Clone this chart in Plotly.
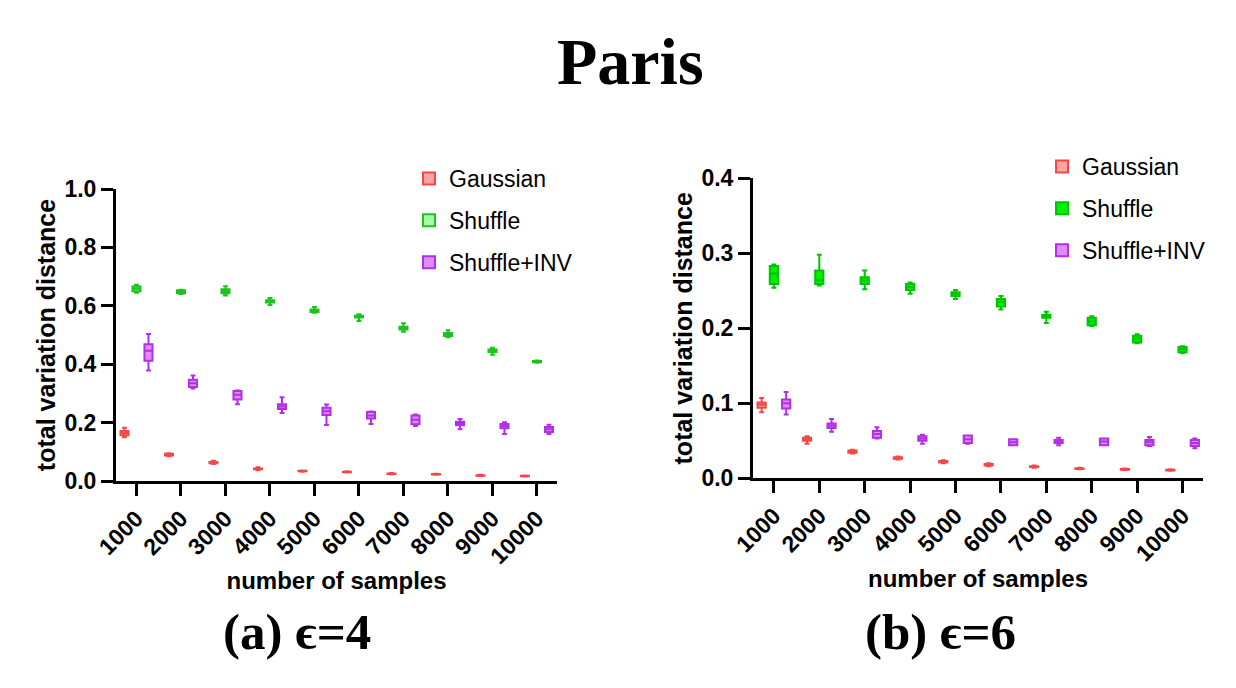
import plotly.graph_objects as go

cats = ["1000", "2000", "3000", "4000", "5000", "6000", "7000", "8000", "9000", "10000"]
series_names = ["Gaussian", "Shuffle", "Shuffle+INV"]

# ---- (a) eps = 4 ----
g4_med = [0.164, 0.090, 0.063, 0.042, 0.034, 0.031, 0.025, 0.023, 0.019, 0.017]
g4_q1 = [0.157, 0.087, 0.061, 0.040, 0.033, 0.030, 0.024, 0.022, 0.018, 0.016]
g4_q3 = [0.171, 0.093, 0.065, 0.043, 0.035, 0.032, 0.026, 0.024, 0.020, 0.018]
g4_lo = [0.150, 0.085, 0.058, 0.037, 0.032, 0.029, 0.023, 0.021, 0.017, 0.015]
g4_hi = [0.182, 0.095, 0.069, 0.047, 0.036, 0.033, 0.027, 0.025, 0.021, 0.019]

s4_med = [0.658, 0.648, 0.650, 0.615, 0.583, 0.563, 0.524, 0.502, 0.446, 0.409]
s4_q1 = [0.650, 0.643, 0.643, 0.611, 0.579, 0.560, 0.519, 0.497, 0.442, 0.407]
s4_q3 = [0.666, 0.653, 0.657, 0.619, 0.587, 0.566, 0.528, 0.507, 0.450, 0.411]
s4_lo = [0.645, 0.640, 0.635, 0.603, 0.576, 0.548, 0.511, 0.492, 0.432, 0.405]
s4_hi = [0.672, 0.655, 0.667, 0.627, 0.596, 0.571, 0.540, 0.516, 0.456, 0.413]

i4_med = [0.446, 0.335, 0.295, 0.255, 0.239, 0.224, 0.210, 0.197, 0.188, 0.177]
i4_q1 = [0.412, 0.322, 0.279, 0.247, 0.226, 0.214, 0.194, 0.191, 0.181, 0.168]
i4_q3 = [0.468, 0.347, 0.308, 0.263, 0.251, 0.236, 0.224, 0.203, 0.195, 0.185]
i4_lo = [0.378, 0.317, 0.263, 0.233, 0.192, 0.195, 0.188, 0.177, 0.161, 0.161]
i4_hi = [0.503, 0.361, 0.310, 0.287, 0.262, 0.238, 0.228, 0.212, 0.201, 0.193]

# ---- (b) eps = 6 ----
g6_med = [0.098, 0.052, 0.0355, 0.027, 0.022, 0.018, 0.0155, 0.013, 0.012, 0.011]
g6_q1 = [0.094, 0.050, 0.034, 0.026, 0.021, 0.017, 0.015, 0.0125, 0.0115, 0.0105]
g6_q3 = [0.101, 0.054, 0.037, 0.028, 0.023, 0.019, 0.016, 0.0135, 0.0125, 0.0115]
g6_lo = [0.088, 0.046, 0.033, 0.025, 0.020, 0.016, 0.014, 0.012, 0.011, 0.010]
g6_hi = [0.107, 0.056, 0.038, 0.029, 0.024, 0.020, 0.017, 0.014, 0.013, 0.012]

s6_med = [0.273, 0.264, 0.264, 0.255, 0.245, 0.235, 0.216, 0.209, 0.186, 0.172]
s6_q1 = [0.259, 0.259, 0.259, 0.251, 0.243, 0.229, 0.214, 0.204, 0.181, 0.168]
s6_q3 = [0.283, 0.277, 0.268, 0.259, 0.248, 0.239, 0.218, 0.214, 0.190, 0.175]
s6_lo = [0.254, 0.257, 0.252, 0.246, 0.239, 0.225, 0.207, 0.203, 0.180, 0.167]
s6_hi = [0.285, 0.298, 0.277, 0.261, 0.251, 0.243, 0.222, 0.216, 0.192, 0.176]

i6_med = [0.100, 0.070, 0.059, 0.053, 0.052, 0.048, 0.049, 0.049, 0.048, 0.047]
i6_q1 = [0.093, 0.067, 0.054, 0.050, 0.047, 0.044, 0.047, 0.044, 0.044, 0.043]
i6_q3 = [0.105, 0.073, 0.063, 0.056, 0.057, 0.052, 0.051, 0.053, 0.051, 0.051]
i6_lo = [0.085, 0.062, 0.053, 0.046, 0.046, 0.044, 0.044, 0.044, 0.043, 0.040]
i6_hi = [0.115, 0.079, 0.068, 0.058, 0.057, 0.052, 0.054, 0.053, 0.055, 0.053]

line_cols = ["#F44848", "#1EC21E", "#B22FE6"]
fill_left = ["#FFA3A3", "#A6FFA6", "#DD8CF8"]
line_right = ["#F44848", "#00C400", "#B22FE6"]
fill_right = ["#FFA3A3", "#00EE00", "#DD8CF8"]

left_stats = [
    (g4_q1, g4_med, g4_q3, g4_lo, g4_hi),
    (s4_q1, s4_med, s4_q3, s4_lo, s4_hi),
    (i4_q1, i4_med, i4_q3, i4_lo, i4_hi),
]
right_stats = [
    (g6_q1, g6_med, g6_q3, g6_lo, g6_hi),
    (s6_q1, s6_med, s6_q3, s6_lo, s6_hi),
    (i6_q1, i6_med, i6_q3, i6_lo, i6_hi),
]

fig = go.Figure()
for k, (name, st) in enumerate(zip(series_names, left_stats)):
    q1, med, q3, lo, hi = st
    fig.add_trace(go.Box(
        x=cats, q1=q1, median=med, q3=q3, lowerfence=lo, upperfence=hi,
        name=name, xaxis="x", yaxis="y", offsetgroup=str(k),
        fillcolor=fill_left[k], line=dict(color=line_cols[k], width=2),
        whiskerwidth=0.6, boxpoints=False, legend="legend", legendgroup="a" + str(k),
    ))
for k, (name, st) in enumerate(zip(series_names, right_stats)):
    q1, med, q3, lo, hi = st
    fig.add_trace(go.Box(
        x=cats, q1=q1, median=med, q3=q3, lowerfence=lo, upperfence=hi,
        name=name, xaxis="x2", yaxis="y2", offsetgroup=str(k),
        fillcolor=fill_right[k], line=dict(color=line_right[k], width=2),
        whiskerwidth=0.6, boxpoints=False, legend="legend2", legendgroup="b" + str(k),
    ))

# page body has an 8px margin, so the figure is 8px smaller and all layout px are shifted by 8
W, H = 1228, 680
O = 8
tickfont = dict(family="Liberation Sans, Arial", size=23, color="black", weight="bold")
xtitlefont = dict(family="Liberation Sans, Arial", size=24, color="black", weight="bold")
ytitlefont = dict(family="Liberation Sans, Arial", size=25, color="black", weight="bold")

def px(x):
    return (x - O) / W

def py(y):
    return 1 - (y - O) / H

def xax(domain, anchor):
    return dict(domain=domain, anchor=anchor, type="category", range=[-0.46, 9.45],
                showline=True, linecolor="black", linewidth=3, ticks="outside",
                ticklen=12, tickwidth=3, tickcolor="black", tickangle=-45,
                tickfont=tickfont, showgrid=False, zeroline=False, automargin=False,
                title=dict(text="number of samples", font=xtitlefont, standoff=5))

def yax(domain, anchor, rng, dtick):
    return dict(domain=domain, anchor=anchor, range=rng, dtick=dtick,
                showline=True, linecolor="black", linewidth=3, ticks="outside",
                ticklen=12, tickwidth=3, tickcolor="black", tickformat=".1f",
                tickfont=tickfont, showgrid=False, zeroline=False, automargin=False,
                title=dict(text="total variation distance", font=ytitlefont, standoff=2))

legfont = dict(family="Liberation Sans, Arial", size=23, color="black")

fig.update_layout(
    width=W, height=H,
    margin=dict(l=0, r=0, t=0, b=0, autoexpand=False),
    paper_bgcolor="white", plot_bgcolor="white",
    boxmode="group", boxgap=0.19, boxgroupgap=0.33,
    xaxis=xax([px(116), px(557)], "y"),
    yaxis=yax([py(481), py(189)], "x", [0, 1.0], 0.2),
    xaxis2=xax([px(753), px(1203)], "y2"),
    yaxis2=yax([py(478.3), py(178.3)], "x2", [0, 0.4], 0.1),
    legend=dict(x=px(409), y=py(157), xanchor="left", yanchor="top",
                font=legfont, bgcolor="rgba(0,0,0,0)", traceorder="grouped",
                tracegroupgap=9),
    legend2=dict(x=px(1042), y=py(145), xanchor="left", yanchor="top",
                 font=legfont, bgcolor="rgba(0,0,0,0)", traceorder="grouped",
                 tracegroupgap=9),
    annotations=[
        dict(text="<b>Paris</b>", x=px(630), y=py(62), xref="paper", yref="paper",
             xanchor="center", yanchor="middle", showarrow=False,
             font=dict(family="Liberation Serif, Times New Roman", size=66, color="black")),
        dict(text="<b>(a) ϵ=4</b>", x=px(297), y=py(632), xref="paper", yref="paper",
             xanchor="center", yanchor="middle", showarrow=False,
             font=dict(family="Liberation Serif, Times New Roman", size=51, color="black")),
        dict(text="<b>(b) ϵ=6</b>", x=px(940), y=py(632), xref="paper", yref="paper",
             xanchor="center", yanchor="middle", showarrow=False,
             font=dict(family="Liberation Serif, Times New Roman", size=51, color="black")),
    ],
)

fig.write_html("out.html")
